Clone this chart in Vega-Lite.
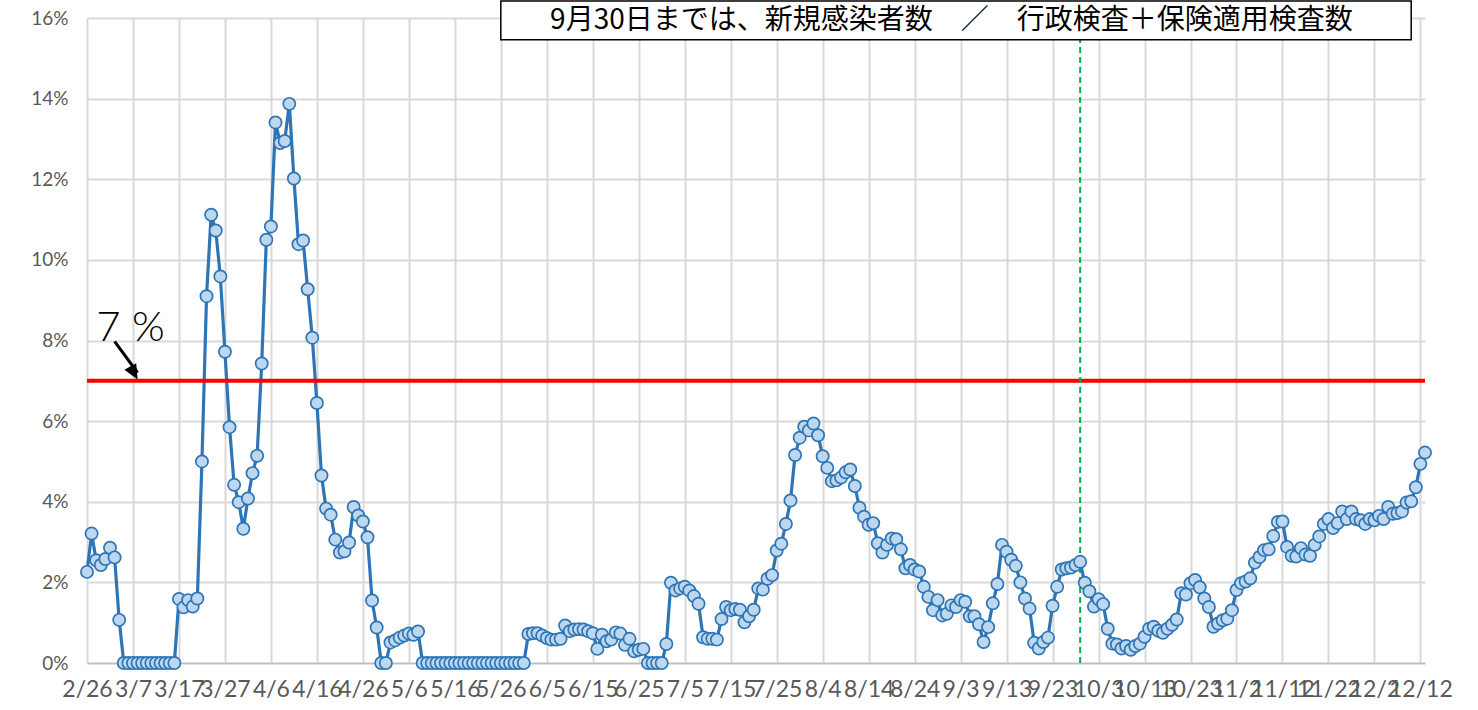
{
  "$schema": "https://vega.github.io/schema/vega-lite/v6.json",
  "width": 1338,
  "height": 645,
  "autosize": {"type": "none"},
  "padding": {"left": 87, "top": 18, "right": 53, "bottom": 47},
  "background": "white",
  "config": {
    "view": {"stroke": null},
    "axis": {"gridColor": "#d9d9d9", "gridWidth": 2, "ticks": false, "labelColor": "#595959", "title": null}
  },
  "datasets": {
    "ratio": [
      {"d":"2/26","v":2.26},{"d":"2/27","v":3.21},{"d":"2/28","v":2.55},{"d":"2/29","v":2.43},
      {"d":"3/1","v":2.58},{"d":"3/2","v":2.86},{"d":"3/3","v":2.62},{"d":"3/4","v":1.07},{"d":"3/5","v":0},{"d":"3/6","v":0},{"d":"3/7","v":0},{"d":"3/8","v":0},{"d":"3/9","v":0},{"d":"3/10","v":0},{"d":"3/11","v":0},{"d":"3/12","v":0},{"d":"3/13","v":0},{"d":"3/14","v":0},{"d":"3/15","v":0},{"d":"3/16","v":0},{"d":"3/17","v":1.59},{"d":"3/18","v":1.38},{"d":"3/19","v":1.56},{"d":"3/20","v":1.40},{"d":"3/21","v":1.60},{"d":"3/22","v":5.0},{"d":"3/23","v":9.1},{"d":"3/24","v":11.12},{"d":"3/25","v":10.73},{"d":"3/26","v":9.59},{"d":"3/27","v":7.72},{"d":"3/28","v":5.85},{"d":"3/29","v":4.42},{"d":"3/30","v":3.99},{"d":"3/31","v":3.33},
      {"d":"4/1","v":4.08},{"d":"4/2","v":4.71},{"d":"4/3","v":5.14},{"d":"4/4","v":7.43},{"d":"4/5","v":10.5},{"d":"4/6","v":10.83},{"d":"4/7","v":13.41},{"d":"4/8","v":12.9},{"d":"4/9","v":12.95},{"d":"4/10","v":13.87},{"d":"4/11","v":12.02},{"d":"4/12","v":10.39},{"d":"4/13","v":10.48},{"d":"4/14","v":9.27},{"d":"4/15","v":8.07},{"d":"4/16","v":6.45},{"d":"4/17","v":4.65},{"d":"4/18","v":3.83},{"d":"4/19","v":3.68},{"d":"4/20","v":3.06},{"d":"4/21","v":2.74},{"d":"4/22","v":2.77},{"d":"4/23","v":2.99},{"d":"4/24","v":3.87},{"d":"4/25","v":3.66},{"d":"4/26","v":3.51},{"d":"4/27","v":3.12},{"d":"4/28","v":1.55},{"d":"4/29","v":0.88},{"d":"4/30","v":0},
      {"d":"5/1","v":0},{"d":"5/2","v":0.51},{"d":"5/3","v":0.56},{"d":"5/4","v":0.63},{"d":"5/5","v":0.68},{"d":"5/6","v":0.73},{"d":"5/7","v":0.70},{"d":"5/8","v":0.78},{"d":"5/9","v":0},{"d":"5/10","v":0},{"d":"5/11","v":0},{"d":"5/12","v":0},{"d":"5/13","v":0},{"d":"5/14","v":0},{"d":"5/15","v":0},{"d":"5/16","v":0},{"d":"5/17","v":0},{"d":"5/18","v":0},{"d":"5/19","v":0},{"d":"5/20","v":0},{"d":"5/21","v":0},{"d":"5/22","v":0},{"d":"5/23","v":0},{"d":"5/24","v":0},{"d":"5/25","v":0},{"d":"5/26","v":0},{"d":"5/27","v":0},{"d":"5/28","v":0},{"d":"5/29","v":0},{"d":"5/30","v":0},{"d":"5/31","v":0},
      {"d":"6/1","v":0.72},{"d":"6/2","v":0.74},{"d":"6/3","v":0.74},{"d":"6/4","v":0.68},{"d":"6/5","v":0.62},{"d":"6/6","v":0.58},{"d":"6/7","v":0.58},{"d":"6/8","v":0.60},{"d":"6/9","v":0.93},{"d":"6/10","v":0.79},{"d":"6/11","v":0.83},{"d":"6/12","v":0.84},{"d":"6/13","v":0.83},{"d":"6/14","v":0.79},{"d":"6/15","v":0.74},{"d":"6/16","v":0.35},{"d":"6/17","v":0.70},{"d":"6/18","v":0.54},{"d":"6/19","v":0.58},{"d":"6/20","v":0.76},{"d":"6/21","v":0.73},{"d":"6/22","v":0.45},{"d":"6/23","v":0.60},{"d":"6/24","v":0.29},{"d":"6/25","v":0.33},{"d":"6/26","v":0.35},{"d":"6/27","v":0},{"d":"6/28","v":0},{"d":"6/29","v":0},{"d":"6/30","v":0},
      {"d":"7/1","v":0.47},{"d":"7/2","v":1.99},{"d":"7/3","v":1.80},{"d":"7/4","v":1.85},{"d":"7/5","v":1.89},{"d":"7/6","v":1.80},{"d":"7/7","v":1.66},{"d":"7/8","v":1.47},{"d":"7/9","v":0.64},{"d":"7/10","v":0.60},{"d":"7/11","v":0.60},{"d":"7/12","v":0.58},{"d":"7/13","v":1.09},{"d":"7/14","v":1.39},{"d":"7/15","v":1.31},{"d":"7/16","v":1.34},{"d":"7/17","v":1.32},{"d":"7/18","v":1.01},{"d":"7/19","v":1.16},{"d":"7/20","v":1.32},{"d":"7/21","v":1.85},{"d":"7/22","v":1.82},{"d":"7/23","v":2.09},{"d":"7/24","v":2.18},{"d":"7/25","v":2.79},{"d":"7/26","v":2.96},{"d":"7/27","v":3.45},{"d":"7/28","v":4.03},{"d":"7/29","v":5.16},{"d":"7/30","v":5.59},{"d":"7/31","v":5.86},
      {"d":"8/1","v":5.77},{"d":"8/2","v":5.94},{"d":"8/3","v":5.65},{"d":"8/4","v":5.13},{"d":"8/5","v":4.84},{"d":"8/6","v":4.51},{"d":"8/7","v":4.53},{"d":"8/8","v":4.60},{"d":"8/9","v":4.73},{"d":"8/10","v":4.80},{"d":"8/11","v":4.39},{"d":"8/12","v":3.85},{"d":"8/13","v":3.63},{"d":"8/14","v":3.43},{"d":"8/15","v":3.47},{"d":"8/16","v":2.97},{"d":"8/17","v":2.74},{"d":"8/18","v":2.93},{"d":"8/19","v":3.09},{"d":"8/20","v":3.07},{"d":"8/21","v":2.82},{"d":"8/22","v":2.35},{"d":"8/23","v":2.43},{"d":"8/24","v":2.32},{"d":"8/25","v":2.27},{"d":"8/26","v":1.89},{"d":"8/27","v":1.64},{"d":"8/28","v":1.31},{"d":"8/29","v":1.56},{"d":"8/30","v":1.18},{"d":"8/31","v":1.22},
      {"d":"9/1","v":1.43},{"d":"9/2","v":1.39},{"d":"9/3","v":1.56},{"d":"9/4","v":1.52},{"d":"9/5","v":1.16},{"d":"9/6","v":1.16},{"d":"9/7","v":0.96},{"d":"9/8","v":0.52},{"d":"9/9","v":0.89},{"d":"9/10","v":1.48},{"d":"9/11","v":1.96},{"d":"9/12","v":2.93},{"d":"9/13","v":2.76},{"d":"9/14","v":2.56},{"d":"9/15","v":2.41},{"d":"9/16","v":2.00},{"d":"9/17","v":1.60},{"d":"9/18","v":1.35},{"d":"9/19","v":0.50},{"d":"9/20","v":0.36},{"d":"9/21","v":0.52},{"d":"9/22","v":0.63},{"d":"9/23","v":1.42},{"d":"9/24","v":1.89},{"d":"9/25","v":2.32},{"d":"9/26","v":2.35},{"d":"9/27","v":2.37},{"d":"9/28","v":2.43},{"d":"9/29","v":2.51},{"d":"9/30","v":1.99},
      {"d":"10/1","v":1.78},{"d":"10/2","v":1.40},{"d":"10/3","v":1.58},{"d":"10/4","v":1.46},{"d":"10/5","v":0.85},{"d":"10/6","v":0.48},{"d":"10/7","v":0.46},{"d":"10/8","v":0.36},{"d":"10/9","v":0.42},{"d":"10/10","v":0.33},{"d":"10/11","v":0.42},{"d":"10/12","v":0.48},{"d":"10/13","v":0.65},{"d":"10/14","v":0.85},{"d":"10/15","v":0.90},{"d":"10/16","v":0.80},{"d":"10/17","v":0.75},{"d":"10/18","v":0.85},{"d":"10/19","v":0.95},{"d":"10/20","v":1.08},{"d":"10/21","v":1.73},{"d":"10/22","v":1.70},{"d":"10/23","v":1.98},{"d":"10/24","v":2.06},{"d":"10/25","v":1.88},{"d":"10/26","v":1.60},{"d":"10/27","v":1.39},{"d":"10/28","v":0.90},{"d":"10/29","v":0.98},{"d":"10/30","v":1.06},{"d":"10/31","v":1.10},
      {"d":"11/1","v":1.31},{"d":"11/2","v":1.81},{"d":"11/3","v":1.98},{"d":"11/4","v":2.02},{"d":"11/5","v":2.10},{"d":"11/6","v":2.49},{"d":"11/7","v":2.63},{"d":"11/8","v":2.80},{"d":"11/9","v":2.82},{"d":"11/10","v":3.15},{"d":"11/11","v":3.50},{"d":"11/12","v":3.51},{"d":"11/13","v":2.88},{"d":"11/14","v":2.66},{"d":"11/15","v":2.64},{"d":"11/16","v":2.85},{"d":"11/17","v":2.69},{"d":"11/18","v":2.66},{"d":"11/19","v":2.93},{"d":"11/20","v":3.14},{"d":"11/21","v":3.45},{"d":"11/22","v":3.57},{"d":"11/23","v":3.35},{"d":"11/24","v":3.47},{"d":"11/25","v":3.76},{"d":"11/26","v":3.57},{"d":"11/27","v":3.76},{"d":"11/28","v":3.57},{"d":"11/29","v":3.54},{"d":"11/30","v":3.45},
      {"d":"12/1","v":3.57},{"d":"12/2","v":3.54},{"d":"12/3","v":3.65},{"d":"12/4","v":3.57},{"d":"12/5","v":3.87},{"d":"12/6","v":3.70},{"d":"12/7","v":3.72},{"d":"12/8","v":3.76},{"d":"12/9","v":3.98},{"d":"12/10","v":4.01},{"d":"12/11","v":4.36},{"d":"12/12","v":4.94},{"d":"12/13","v":5.22}
    ],
    "notes": [{"box": "9月30日までは、新規感染者数　／　行政検査＋保険適用検査数", "threshold": "7 %"}]
  },
  "resolve": {"scale": {"x": "shared", "y": "shared"}},
  "layer": [
    {
      "data": {"name": "ratio"},
      "mark": {"type": "line", "color": "#2e75b6", "strokeWidth": 3.2},
      "encoding": {
        "x": {"field": "d", "type": "ordinal", "sort": null,
          "scale": {"type": "point", "padding": 0, "domain": ["2/26","2/27","2/28","2/29","3/1","3/2","3/3","3/4","3/5","3/6","3/7","3/8","3/9","3/10","3/11","3/12","3/13","3/14","3/15","3/16","3/17","3/18","3/19","3/20","3/21","3/22","3/23","3/24","3/25","3/26","3/27","3/28","3/29","3/30","3/31","4/1","4/2","4/3","4/4","4/5","4/6","4/7","4/8","4/9","4/10","4/11","4/12","4/13","4/14","4/15","4/16","4/17","4/18","4/19","4/20","4/21","4/22","4/23","4/24","4/25","4/26","4/27","4/28","4/29","4/30","5/1","5/2","5/3","5/4","5/5","5/6","5/7","5/8","5/9","5/10","5/11","5/12","5/13","5/14","5/15","5/16","5/17","5/18","5/19","5/20","5/21","5/22","5/23","5/24","5/25","5/26","5/27","5/28","5/29","5/30","5/31","6/1","6/2","6/3","6/4","6/5","6/6","6/7","6/8","6/9","6/10","6/11","6/12","6/13","6/14","6/15","6/16","6/17","6/18","6/19","6/20","6/21","6/22","6/23","6/24","6/25","6/26","6/27","6/28","6/29","6/30","7/1","7/2","7/3","7/4","7/5","7/6","7/7","7/8","7/9","7/10","7/11","7/12","7/13","7/14","7/15","7/16","7/17","7/18","7/19","7/20","7/21","7/22","7/23","7/24","7/25","7/26","7/27","7/28","7/29","7/30","7/31","8/1","8/2","8/3","8/4","8/5","8/6","8/7","8/8","8/9","8/10","8/11","8/12","8/13","8/14","8/15","8/16","8/17","8/18","8/19","8/20","8/21","8/22","8/23","8/24","8/25","8/26","8/27","8/28","8/29","8/30","8/31","9/1","9/2","9/3","9/4","9/5","9/6","9/7","9/8","9/9","9/10","9/11","9/12","9/13","9/14","9/15","9/16","9/17","9/18","9/19","9/20","9/21","9/22","9/23","9/24","9/25","9/26","9/27","9/28","9/29","9/30","10/1","10/2","10/3","10/4","10/5","10/6","10/7","10/8","10/9","10/10","10/11","10/12","10/13","10/14","10/15","10/16","10/17","10/18","10/19","10/20","10/21","10/22","10/23","10/24","10/25","10/26","10/27","10/28","10/29","10/30","10/31","11/1","11/2","11/3","11/4","11/5","11/6","11/7","11/8","11/9","11/10","11/11","11/12","11/13","11/14","11/15","11/16","11/17","11/18","11/19","11/20","11/21","11/22","11/23","11/24","11/25","11/26","11/27","11/28","11/29","11/30","12/1","12/2","12/3","12/4","12/5","12/6","12/7","12/8","12/9","12/10","12/11","12/12","12/13"]},
          "axis": {"values": ["2/26","3/7","3/17","3/27","4/6","4/16","4/26","5/6","5/16","5/26","6/5","6/15","6/25","7/5","7/15","7/25","8/4","8/14","8/24","9/3","9/13","9/23","10/3","10/13","10/23","11/2","11/12","11/22","12/2","12/12"],
            "labelAngle": 0, "labelOverlap": false, "labelFlush": false, "labelFont": "Liberation Sans Narrow, Lato, sans-serif", "labelFontSize": 23, "labelPadding": 15,
            "domainColor": "#bfbfbf", "domainWidth": 1.5, "grid": true}},
        "y": {"field": "v", "type": "quantitative",
          "scale": {"domain": [0, 16], "nice": false, "zero": true},
          "axis": {"values": [0,2,4,6,8,10,12,14,16], "labelExpr": "datum.value + '%'", "labelFont": "Lato, sans-serif", "labelFontSize": 19, "labelPadding": 19, "domain": false, "grid": true}}
      }
    },
    {
      "data": {"name": "notes"},
      "mark": {"type": "rule", "color": "#ff0000", "strokeWidth": 4},
      "encoding": {"y": {"datum": 7, "type": "quantitative"}}
    },
    {
      "data": {"name": "notes"},
      "mark": {"type": "rule", "color": "#00b050", "strokeWidth": 2, "strokeDash": [6, 4]},
      "encoding": {
        "x": {"datum": "9/29", "type": "ordinal"},
        "y": {"datum": 0, "type": "quantitative"},
        "y2": {"datum": 15.5}
      }
    },
    {
      "data": {"name": "ratio"},
      "mark": {"type": "point", "shape": "circle", "filled": true, "size": 150, "fill": "#bdd7ee", "stroke": "#2e75b6", "strokeWidth": 1.7, "opacity": 1},
      "encoding": {
        "x": {"field": "d", "type": "ordinal", "sort": null},
        "y": {"field": "v", "type": "quantitative"}
      }
    },
    {
      "data": {"name": "notes"},
      "mark": {"type": "rect", "fill": "white", "stroke": "black", "strokeWidth": 1.5},
      "encoding": {
        "x": {"datum": "5/26", "type": "ordinal"},
        "x2": {"datum": "12/10"},
        "y": {"datum": 16.42, "type": "quantitative"},
        "y2": {"datum": 15.46}
      }
    },
    {
      "data": {"name": "notes"},
      "mark": {"type": "text", "font": "Noto Sans CJK JP", "fontSize": 28, "color": "black", "align": "center", "baseline": "middle"},
      "encoding": {
        "x": {"datum": "9/1", "type": "ordinal"},
        "y": {"datum": 15.92, "type": "quantitative"},
        "text": {"field": "box"}
      }
    },
    {
      "data": {"name": "notes"},
      "mark": {"type": "rule", "color": "black", "strokeWidth": 3},
      "encoding": {
        "x": {"datum": "3/3", "type": "ordinal"},
        "x2": {"datum": "3/8"},
        "y": {"datum": 7.98, "type": "quantitative"},
        "y2": {"datum": 7.2}
      }
    },
    {
      "data": {"name": "notes"},
      "mark": {"type": "point", "shape": "M0,0L-0.45,-1L0.45,-1Z", "filled": true, "color": "black", "opacity": 1, "size": 900, "angle": -29},
      "encoding": {
        "x": {"datum": "3/8", "type": "ordinal"},
        "y": {"datum": 7.03, "type": "quantitative"}
      }
    },
    {
      "data": {"name": "notes"},
      "mark": {"type": "text", "font": "Lato", "fontWeight": 300, "fontSize": 42, "color": "black", "align": "left", "baseline": "alphabetic"},
      "encoding": {
        "x": {"datum": "2/28", "type": "ordinal"},
        "y": {"datum": 7.99, "type": "quantitative"},
        "text": {"field": "threshold"}
      }
    }
  ]
}
